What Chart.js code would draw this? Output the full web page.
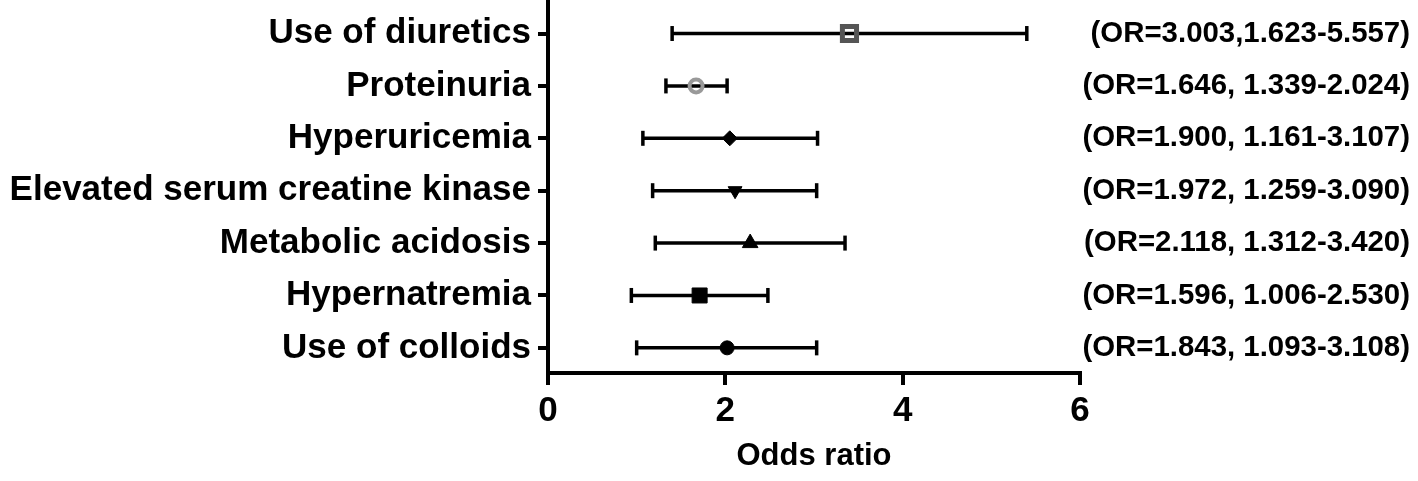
<!DOCTYPE html>
<html>
<head>
<meta charset="utf-8">
<title>Odds ratio forest plot</title>
<script src="https://cdn.jsdelivr.net/npm/chart.js@4.4.1/dist/chart.umd.min.js"></script>
<style>
  html, body { margin: 0; padding: 0; background: #fff; }
  #wrap { width: 1418px; height: 481px; }
</style>
</head>
<body>
<div id="wrap"><canvas id="orChart" width="1418" height="481"></canvas></div>
<script>
// Rows, top to bottom
const categories = [
  "Use of diuretics",
  "Proteinuria",
  "Hyperuricemia",
  "Elevated serum creatine kinase",
  "Metabolic acidosis",
  "Hypernatremia",
  "Use of colloids"
]

// Values as drawn in the plot
const oddsRatio = [3.40, 1.67, 2.05, 2.11, 2.28, 1.71, 2.02]
const ciLow = [1.40, 1.33, 1.07, 1.18, 1.21, 0.94, 1.00]
const ciHigh = [5.40, 2.02, 3.04, 3.03, 3.35, 2.48, 3.03]

// Text printed at the right of each row
const orLabels = [
  "(OR=3.003,1.623-5.557)",
  "(OR=1.646, 1.339-2.024)",
  "(OR=1.900, 1.161-3.107)",
  "(OR=1.972, 1.259-3.090)",
  "(OR=2.118, 1.312-3.420)",
  "(OR=1.596, 1.006-2.530)",
  "(OR=1.843, 1.093-3.108)"
]

const xTicks = [0, 2, 4, 6]

const FONT = '"Liberation Sans", Arial, Helvetica, sans-serif'
const n = categories.length
const rowValue = (i) => n - i

// Marker look per row
const markerStyle = ["rect", "circle", "rectRot", "triangle", "triangle", "rect", "circle"]
const markerRotation = [0, 0, 0, 180, 0, 0, 0]
const markerRadius = [10, 6.5, 7.5, 8, 9, 10.6, 7]
const markerFill = ["rgba(0,0,0,0)", "rgba(0,0,0,0)", "#000", "#000", "#000", "#000", "#000"]
const markerBorder = ["#555", "#999", "#000", "#000", "#000", "#000", "#000"]
const markerBorderWidth = [5, 4, 1, 1, 1, 1, 1]

const markerSet = {
  type: "scatter",
  data: oddsRatio.map((v, i) => ({ x: v, y: rowValue(i) })),
  pointStyle: markerStyle,
  rotation: markerRotation,
  pointRadius: markerRadius,
  backgroundColor: markerFill,
  borderColor: markerBorder,
  borderWidth: markerBorderWidth
}

// One small line per row for the interval, caps drawn as rotated "line" points
const intervalSets = categories.map((c, i) => ({
  type: "line",
  data: [
    { x: ciLow[i], y: rowValue(i) },
    { x: ciHigh[i], y: rowValue(i) }
  ],
  borderColor: "#000",
  borderWidth: 3.5,
  pointStyle: "line",
  rotation: 90,
  pointRadius: 7.5,
  pointBorderWidth: 3.5,
  pointBorderColor: "#000",
  showLine: true
}))

const rowTicks = (scale) => {
  scale.ticks = categories.map((c, i) => ({ value: rowValue(i) }))
}

new Chart(document.getElementById("orChart"), {
  data: { datasets: [markerSet, ...intervalSets] },
  options: {
    responsive: false,
    animation: false,
    layout: { autoPadding: false, padding: { left: 0, top: 0, bottom: 0, right: 8 } },
    plugins: { legend: { display: false }, tooltip: { enabled: false } },
    scales: {
      x: {
        type: "linear",
        min: 0,
        max: 6,
        afterBuildTicks: (scale) => {
          scale.ticks = xTicks.map((v) => ({ value: v }))
        },
        ticks: {
          color: "#000",
          padding: 5,
          font: { family: FONT, size: 35, weight: "bold" }
        },
        grid: { drawOnChartArea: false, tickLength: 12, lineWidth: 4, color: "#000" },
        border: { display: true, width: 4, color: "#000" },
        title: {
          display: true,
          text: "Odds ratio",
          color: "#000",
          padding: { top: 0, bottom: 6 },
          font: { family: FONT, size: 31, weight: "bold" }
        },
        afterFit: (scale) => {
          scale.height = 108
        }
      },
      y: {
        type: "linear",
        position: "left",
        min: 0.52,
        max: 7.64,
        afterBuildTicks: rowTicks,
        ticks: {
          color: "#000",
          padding: 7,
          font: { family: FONT, size: 35, weight: "bold" },
          callback: (v) => categories[n - v]
        },
        grid: { drawOnChartArea: false, tickLength: 10, lineWidth: 4, color: "#000" },
        border: { display: true, width: 4, color: "#000" },
        afterFit: (scale) => {
          scale.width = 548
          scale.paddingTop = 0
          scale.paddingBottom = 0
        }
      },
      yRight: {
        type: "linear",
        position: "right",
        min: 0.52,
        max: 7.64,
        afterBuildTicks: rowTicks,
        ticks: {
          color: "#000",
          padding: 0,
          crossAlign: "far",
          font: { family: FONT, size: 29.4, weight: "bold" },
          callback: (v) => orLabels[n - v]
        },
        grid: { display: false, drawTicks: false },
        border: { display: false },
        afterFit: (scale) => {
          scale.width = 1418 - 8 - 1080
          scale.paddingTop = 0
          scale.paddingBottom = 0
        }
      }
    }
  }
})
</script>
</body>
</html>
